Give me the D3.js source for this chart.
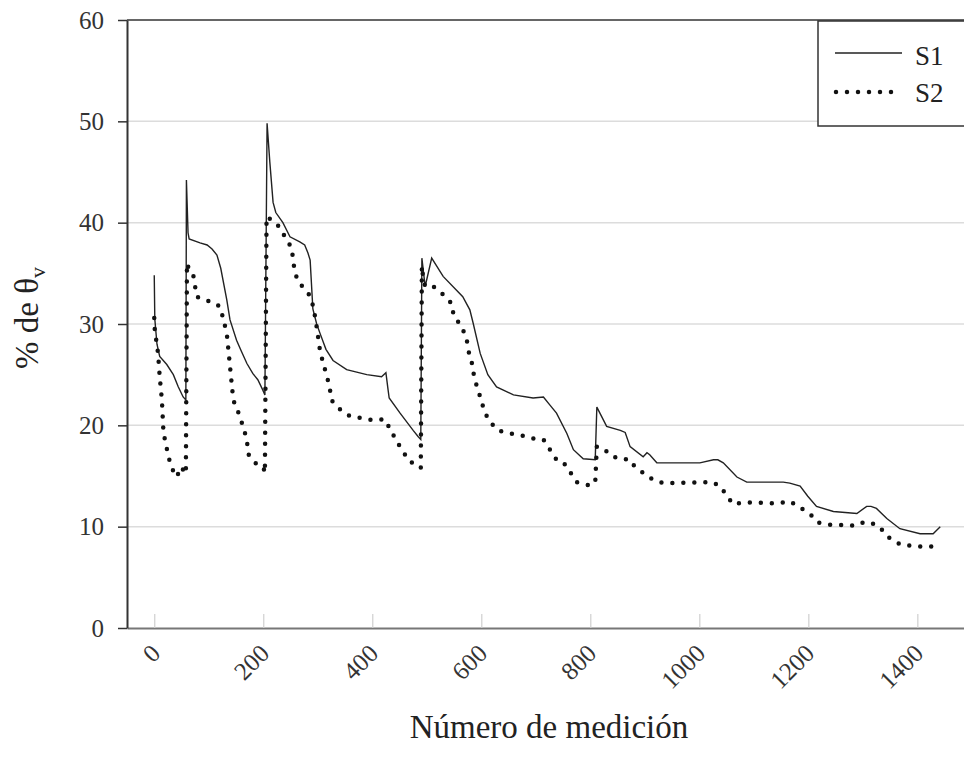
<!DOCTYPE html>
<html>
<head>
<meta charset="utf-8">
<script src="https://cdn.jsdelivr.net/npm/d3@7"></script>
<style>
  body { margin: 0; background: #fff; }
  svg { display: block; font-family: "Liberation Serif", "Times New Roman", serif; }
</style>
</head>
<body>
<svg id="chart" width="964" height="761"></svg>
<script>
// S1 (solid) - measurement number / % of theta v
const s1Meas = [0, 1, 5, 10, 23, 35, 44, 53, 58, 59, 62, 64, 84, 97, 106, 115, 122, 133, 139, 151, 159, 170, 181, 190, 199, 203,
  207, 212, 218, 223, 236, 249, 267, 276, 282, 286, 291, 298, 304, 315, 328, 353, 390, 417, 425, 429, 431, 451, 475, 484, 489,
  491, 497, 509, 530, 566, 579, 585, 598, 612, 628, 659, 695, 714, 726, 738, 757, 769, 787, 809,
  812, 830, 855, 864, 873, 897, 904, 909, 922, 1001, 1026, 1034, 1044, 1069, 1087, 1154, 1166, 1185, 1199, 1215, 1246,
  1289, 1307, 1315, 1325, 1344, 1368, 1405, 1429, 1442];
const s1Vals = [34.8, 30.5, 28, 26.8, 26, 25, 23.8, 22.8, 22.5, 44.2, 39, 38.4, 38, 37.8, 37.4, 36.8, 35.5, 32.4, 30.4, 28.4, 27.4, 26.1, 25.1, 24.5, 23.5, 23,
  49.8, 46, 42, 41, 40, 38.6, 38.1, 37.8, 37, 36.3, 31.5, 30, 29.1, 27.5, 26.4, 25.5, 25, 24.8, 25.2, 23.5, 22.7, 21.2, 19.5, 18.9, 18.6,
  36.5, 33.7, 36.5, 34.7, 32.7, 31.4, 30.1, 27.1, 25, 23.8, 23, 22.7, 22.8, 22, 21.2, 19.2, 17.6, 16.7, 16.6,
  21.8, 19.9, 19.5, 19.3, 17.9, 16.9, 17.3, 17.1, 16.3, 16.3, 16.6, 16.6, 16.3, 14.9, 14.4, 14.4, 14.3, 14, 13, 12, 11.5,
  11.3, 12, 12, 11.8, 10.8, 9.8, 9.3, 9.3, 10];

// S2 (dotted)
const s2Meas = [0, 1, 7, 10, 14, 17, 20, 26, 32, 41, 50, 56, 58, 60, 65, 72, 78, 90, 105, 121, 127, 133, 139, 145, 157, 170, 172, 185, 200, 203,
  206, 225, 240, 252, 258, 267, 283, 292, 298, 304, 310, 316, 322, 325, 338, 359, 381, 402, 423, 432, 442, 454, 469, 484, 489,
  491, 493, 497, 512, 530, 546, 549, 564, 573, 576, 582, 585, 591, 598, 604, 613, 631, 653, 674, 695, 714, 726, 738, 750, 763, 775, 796, 809,
  812, 824, 842, 861, 870, 879, 897, 916, 934, 1023, 1038, 1050, 1062, 1081, 1145, 1166, 1185, 1206, 1218, 1240, 1286, 1304, 1325,
  1341, 1350, 1371, 1414, 1438];
const s2Vals = [30.6, 29.4, 27.1, 24.8, 22.5, 19.2, 18.5, 16.9, 15.8, 14.9, 15.9, 15.3, 15.2, 36, 35.2, 34.7, 32.7, 32.4, 32.2, 31.7, 30.4, 29.1, 25.8, 22.5, 20.9, 18.6, 17.2, 16.3, 15.9, 15.3,
  40.6, 39.9, 38.6, 37.5, 35, 34, 33, 31.7, 29.7, 27.4, 26.1, 25, 23.7, 22.5, 21.7, 20.9, 20.7, 20.5, 20.6, 19.7, 18.7, 17.6, 16.4, 16.1, 15.8,
  35.7, 34.7, 33.7, 33.7, 32.9, 32, 30.9, 29.7, 28.6, 27.4, 26.4, 25.3, 24, 22.8, 21.7, 20.5, 19.5, 19.2, 19, 18.7, 18.6, 17.6, 16.6, 16.4, 15.4, 14.4, 14.1, 14.3,
  17.9, 17.7, 16.9, 16.6, 16.7, 16.1, 15.3, 14.6, 14.3, 14.4, 14, 13.1, 12.2, 12.4, 12.3, 12.5, 11.9, 11.1, 10.4, 10.2, 10.1, 10.5, 10.2,
  9.4, 8.8, 8.2, 8, 8.1];

const xTicks = [0, 200, 400, 600, 800, 1000, 1200, 1400];
const yTicks = [0, 10, 20, 30, 40, 50, 60];
const seriesNames = ["S1", "S2"];

const svg = d3.select("#chart");
const plotLeft = 127, plotTop = 20, plotBottom = 628;
const serif = "'Liberation Serif', 'Times New Roman', serif";

const x = d3.scaleLinear().domain([-50, 1490]).range([plotLeft, 966.4]);
const y = d3.scaleLinear().domain([0, 60]).range([plotBottom, plotTop]);

// horizontal grid
svg.append("g")
  .selectAll("line")
  .data(yTicks.filter(d => d > 0 && d < 60))
  .join("line")
  .attr("x1", plotLeft).attr("x2", 964)
  .attr("y1", d => y(d)).attr("y2", d => y(d))
  .attr("stroke", "#dcdcdc").attr("stroke-width", 1.5);

// top frame
svg.append("line")
  .attr("x1", plotLeft).attr("x2", 964)
  .attr("y1", y(60)).attr("y2", y(60))
  .attr("stroke", "#666").attr("stroke-width", 2);

// x axis (ticks point into the plot)
const xAxis = svg.append("g")
  .attr("transform", `translate(0,${plotBottom})`)
  .call(d3.axisBottom(x).tickValues(xTicks).tickFormat(d3.format("d"))
    .tickSizeInner(-14).tickSizeOuter(0).tickPadding(0));
xAxis.attr("font-family", serif);
xAxis.select(".domain").attr("stroke", "#777").attr("stroke-width", 2);
xAxis.selectAll(".tick line").attr("stroke", "#cfcfcf").attr("stroke-width", 1.2);
xAxis.selectAll(".tick text")
  .attr("font-size", 25)
  .attr("fill", "#333")
  .attr("text-anchor", "end")
  .attr("y", 0)
  .attr("dy", 0)
  .attr("transform", "translate(7,27) rotate(-45)");

// y axis
const yAxis = svg.append("g")
  .attr("transform", `translate(${plotLeft},0)`)
  .call(d3.axisLeft(y).tickValues(yTicks).tickSizeInner(9).tickSizeOuter(0).tickPadding(14));
yAxis.attr("font-family", serif);
yAxis.select(".domain").attr("stroke", "#333").attr("stroke-width", 2);
yAxis.selectAll(".tick line").attr("stroke", "#333").attr("stroke-width", 1.5);
yAxis.selectAll(".tick text").attr("font-size", 25).attr("fill", "#333");

// lines
const line = d3.line().x(d => x(d[0])).y(d => y(d[1]));
const s1 = s1Meas.map((m, i) => [m, s1Vals[i]]);
const s2 = s2Meas.map((m, i) => [m, s2Vals[i]]);

svg.append("path")
  .attr("d", line(s1))
  .attr("fill", "none")
  .attr("stroke", "#222")
  .attr("stroke-width", 1.4);

svg.append("path")
  .attr("d", line(s2))
  .attr("fill", "none")
  .attr("stroke", "#111")
  .attr("stroke-width", 4.5)
  .attr("stroke-linecap", "round")
  .attr("stroke-dasharray", "0 11");

// legend
const lg = svg.append("g");
lg.append("rect")
  .attr("x", 818).attr("y", 21).attr("width", 160).attr("height", 105)
  .attr("fill", "#fff").attr("stroke", "#333").attr("stroke-width", 1.5);
lg.append("line").attr("x1", 835).attr("x2", 902).attr("y1", 53).attr("y2", 53)
  .attr("stroke", "#222").attr("stroke-width", 1.4);
lg.append("line").attr("x1", 836).attr("x2", 902).attr("y1", 92).attr("y2", 92)
  .attr("stroke", "#111").attr("stroke-width", 4.5).attr("stroke-linecap", "round").attr("stroke-dasharray", "0 11");
lg.selectAll("text")
  .data(seriesNames)
  .join("text")
  .attr("x", 915)
  .attr("y", (d, i) => 65 + i * 37)
  .attr("font-size", 27)
  .attr("fill", "#222")
  .text(d => d);

// axis titles
svg.append("text")
  .attr("x", 549).attr("y", 738)
  .attr("text-anchor", "middle")
  .attr("font-size", 33)
  .attr("fill", "#222")
  .text("Número de medición");

const yt = svg.append("text")
  .attr("transform", "translate(38,318) rotate(-90)")
  .attr("text-anchor", "middle")
  .attr("font-size", 33)
  .attr("fill", "#222");
yt.append("tspan").text("% de θ");
yt.append("tspan").attr("font-size", 22).attr("dy", 7).text("v");
</script>
</body>
</html>
